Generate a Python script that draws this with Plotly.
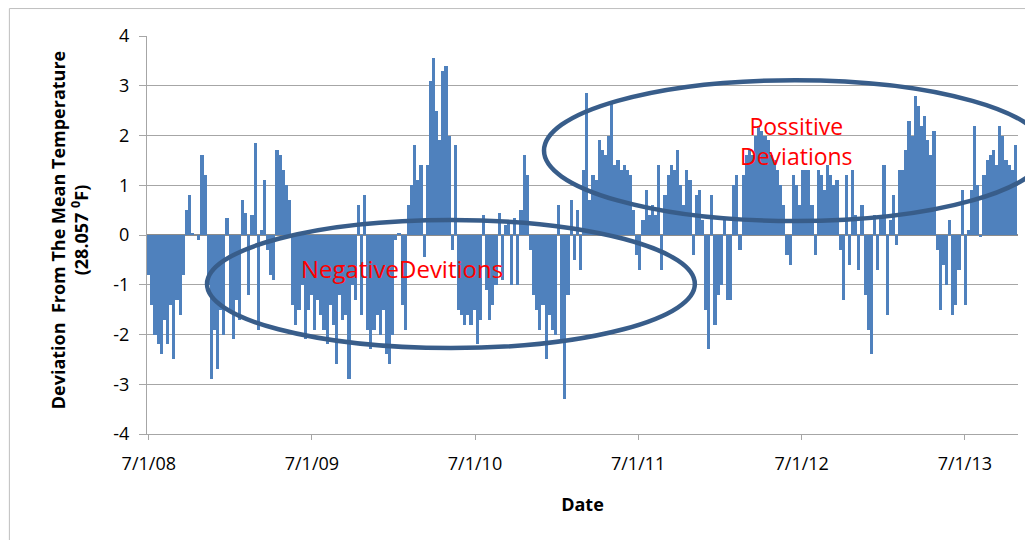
import pandas as pd
import plotly.graph_objects as go

# Weekly deviation from the mean temperature (deg F), starting 7/1/2008
start_date = "2008-07-01"
deviation = [
    -0.8, -1.4, -2.0, -2.2, -2.4, -1.7, -2.2, -1.4, -2.5, -1.3,
    -1.6, -0.8, 0.5, 0.8, 0.05, 0.0, -0.1, 1.6, 1.2, -1.0,
    -2.9, -1.9, -2.7, -1.5, -2.0, 0.35, -1.5, -2.1, -1.3, -1.7,
    0.7, 0.45, -1.2, 0.4, 1.85, -1.9, 0.1, 1.1, -0.3, -0.8,
    -0.9, 1.7, 1.6, 1.3, 1.0, 0.7, -1.4, -1.8, -1.5, -1.0,
    -2.1, -1.5, -1.2, -1.9, -1.3, -1.6, -1.9, -2.2, -1.4, -1.8,
    -2.6, -1.2, -1.7, -1.6, -2.9, -1.0, -1.3, 0.6, -1.6, 0.8,
    -1.9, -2.3, -1.9, -1.6, -2.0, -1.5, -2.4, -2.6, -2.0, -0.1,
    0.05, -1.4, -1.9, 0.6, 1.0, 1.8, 1.1, 1.4, -0.45, 1.4,
    3.1, 3.55, 2.5, 1.9, 3.3, 3.4, 2.0, -0.3, 1.8, -1.5,
    -1.6, -1.8, -1.6, -1.8, -1.5, -2.2, -1.7, 0.4, -1.1, -1.7,
    -1.4, -1.0, 0.45, -0.9, 0.2, 0.3, -1.0, 0.35, -1.0, 0.5,
    1.6, 1.2, -0.3, -1.2, -1.5, -1.9, -1.4, -2.5, -1.6, -1.9,
    -2.0, 0.6, -2.1, -3.3, -1.2, 0.7, -0.5, 0.5, -0.7, 1.3,
    2.85, 0.7, 1.2, 1.1, 1.9, 1.7, 1.6, 2.0, 2.65, 1.4,
    1.5, 1.3, 1.4, 1.3, 1.2, 0.5, -0.4, -0.7, 0.3, 0.9,
    0.4, 0.6, 0.4, 1.4, -0.7, 0.8, 1.2, 1.4, 1.3, 1.7,
    1.0, 0.6, 1.3, 1.1, -0.4, 0.8, 0.9, 0.3, -1.5, -2.3,
    0.8, -1.8, -1.2, -1.0, 0.35, -1.3, -1.3, 1.0, 1.2, -0.3,
    1.2, 1.6, 1.7, 1.6, 2.0, 2.2, 2.1, 2.0, 1.9, 1.6,
    1.5, 1.3, 1.0, 0.6, -0.4, -0.6, 1.2, 1.0, 0.6, 1.3,
    1.3, 1.3, 0.6, -0.4, 1.3, 1.2, 0.9, 1.4, 1.2, 1.0,
    1.1, -0.3, -1.3, 1.2, -0.6, 1.3, 0.4, -0.7, 0.6, -1.2,
    -1.9, -2.4, 0.4, -0.7, 0.4, 1.4, -1.6, 0.3, 0.8, -0.2,
    1.3, 1.3, 1.7, 2.3, 2.0, 2.8, 2.6, 2.2, 2.4, 1.9,
    1.6, 2.1, -0.3, -1.5, -0.6, -1.0, 0.3, -1.6, -1.4, -0.7,
    0.9, -1.4, 0.1, 0.9, 2.2, 1.0, -0.05, 1.2, 1.5, 1.6,
    1.7, 1.4, 2.2, 2.0, 1.5, 1.4, 1.3, 1.8,
]
dates = pd.date_range(start_date, periods=len(deviation), freq="7D")

tick_dates = ["2008-07-01", "2009-07-01", "2010-07-01", "2011-07-01", "2012-07-01", "2013-07-01"]
tick_labels = ["7/1/08", "7/1/09", "7/1/10", "7/1/11", "7/1/12", "7/1/13"]
y_ticks = [-4, -3, -2, -1, 0, 1, 2, 3, 4]
y_tick_labels = ["-4", "-3", "-2", "-1", "0", "1", "2", "3", "4"]

FONT = "'Open Sans', Lato, sans-serif"
BAR = "#4F81BD"
GRID = "#A6A6A6"
RING = "#385D8A"

fig = go.Figure()
fig.add_trace(go.Bar(
    x=dates, y=deviation,
    marker=dict(color=BAR, line=dict(width=0)),
    width=7 * 24 * 3600 * 1000,
    showlegend=False,
))

fig.update_layout(
    width=1033, height=540,
    margin=dict(l=139, r=23, t=28, b=114),
    paper_bgcolor="white", plot_bgcolor="white",
    bargap=0,
    font=dict(family=FONT, size=18, color="#000000"),
    xaxis=dict(
        type="date",
        range=["2008-06-27", "2013-10-28"],
        tickvals=tick_dates, ticktext=tick_labels,
        showgrid=False, zeroline=False,
        showline=True, linecolor=GRID, linewidth=1,
        ticks="outside", ticklen=5, tickcolor=GRID,
        ticklabelstandoff=8,
        tickfont=dict(size=18),
        title=dict(text="<b>Date</b>", font=dict(size=18), standoff=24),
    ),
    yaxis=dict(
        range=[-4, 4],
        tickvals=y_ticks, ticktext=y_tick_labels,
        showgrid=True, gridcolor=GRID, gridwidth=1.2,
        zeroline=True, zerolinecolor="#8C8C8C", zerolinewidth=1.5,
        showline=True, linecolor=GRID, linewidth=1,
        ticks="outside", ticklen=7, tickcolor=GRID,
        ticklabelstandoff=6,
        tickfont=dict(size=18),
    ),
    shapes=[
        # outer chart border
        dict(type="rect", xref="paper", yref="paper",
             x0=-0.158, x1=1.1, y0=-0.3, y1=1.069,
             line=dict(color="#BFBFBF", width=1), layer="below"),
        # negative deviations ellipse
        dict(type="circle", xref="paper", yref="paper",
             x0=0.0689, x1=0.629, y0=0.216, y1=0.5377,
             line=dict(color=RING, width=4.5), layer="above"),
        # positive deviations ellipse
        dict(type="circle", xref="paper", yref="paper",
             x0=0.4558, x1=1.032, y0=0.535, y1=0.889,
             line=dict(color=RING, width=4.5), layer="above"),
    ],
    annotations=[
        dict(text="<b>Deviation  From The Mean Temperature</b><br><b>(28.057 <sup>0</sup>F)</b>",
             xref="paper", yref="paper", x=-0.089, y=0.513,
             xanchor="center", yanchor="middle", textangle=-90,
             showarrow=False, font=dict(size=18, color="#000000")),
        dict(text="NegativeDevitions", xref="paper", yref="paper",
             x=0.2928, y=0.417, xanchor="center", yanchor="middle",
             showarrow=False, font=dict(size=24, color="#FF0000")),
        dict(text="Possitive<br>Deviations", xref="paper", yref="paper",
             x=0.746, y=0.736, xanchor="center", yanchor="middle",
             showarrow=False, font=dict(size=23, color="#FF0000")),
    ],
)

fig.write_html("out.html")
